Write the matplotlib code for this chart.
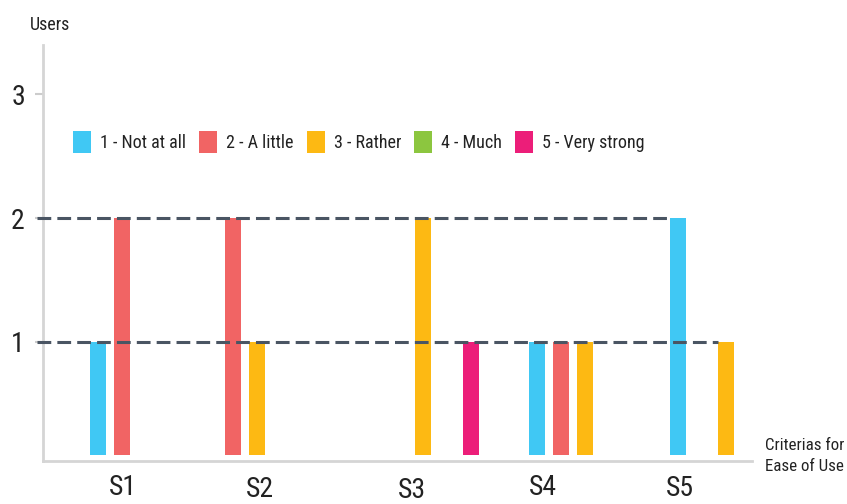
import numpy as np
import matplotlib
matplotlib.use('Agg')
import matplotlib.pyplot as plt
from matplotlib.patches import Patch
from matplotlib import font_manager

# data
categories = ['S1', 'S2', 'S3', 'S4', 'S5']
levels = ['1 - Not at all', '2 - A little', '3 - Rather', '4 - Much', '5 - Very strong']
not_at_all = [1, 0, 0, 1, 2]
a_little = [2, 2, 0, 1, 0]
rather = [0, 1, 2, 1, 1]
much = [0, 0, 0, 0, 0]
very_strong = [0, 0, 1, 0, 0]
series = [not_at_all, a_little, rather, much, very_strong]
colors = ['#40C8F4', '#F16464', '#FDB913', '#8CC63F', '#EC1E79']

# layout (axis units: one bar slot = 1)
group_x = [4.29, 8.92, 15.83, 22.58, 28.46]
label_x = [3.33, 9.04, 15.38, 20.83, 26.54]
label_y = [-0.07, -0.085, -0.09, -0.07, -0.08]
base = 0.085

names = {f.name for f in font_manager.fontManager.ttflist}
cands = ['Roboto Condensed', 'Open Sans Condensed', 'Liberation Sans Narrow',
         'Noto Sans Condensed', 'DejaVu Sans Condensed']
narrow = [c for c in cands if c in names]
font = narrow[0] if narrow else 'Lato'
plt.rcParams['font.family'] = [font, 'DejaVu Sans']
sc = 1.0 if narrow else 0.88  # Lato is wider than the original condensed face

fig = plt.figure(figsize=(8.47, 5.04), dpi=100)
ax = fig.add_axes([43 / 847, 38.5 / 504, 709 / 847, 420.5 / 504])
ax.set_xlim(0, 709 / 24)
ax.set_ylim(0, 3.4)

slot_offsets = np.arange(5) - 2
for vals, off, col in zip(series, slot_offsets, colors):
    v = np.array(vals, dtype=float)
    h = np.where(v > 0, v - base, 0)
    ax.bar(np.array(group_x) + off, h, bottom=base, width=0.7, color=col, zorder=2)

# dashed reference lines, ending at the last bar of that height
for lvl in [1, 2]:
    ends = [gx + off - 0.35 for vals, off in zip(series, slot_offsets)
            for gx, v in zip(group_x, vals) if v == lvl]
    ax.plot([-0.25, max(ends)], [lvl, lvl], ls=(0, (4.5, 2)), lw=2.2,
            color='#4A5563', zorder=3, clip_on=False)

for s in ['top', 'right']:
    ax.spines[s].set_visible(False)
ax.spines['left'].set_color('#D5D5D5')
ax.spines['left'].set_linewidth(2)
ax.spines['left'].set_bounds(0.04, 3.4)
ax.spines['bottom'].set_color('#D5D5D5')
ax.spines['bottom'].set_linewidth(2)
ax.spines['bottom'].set_position(('data', 0.04))

ax.set_yticks([1, 2, 3])
ax.tick_params(axis='y', length=6, width=1.5, color='#CCCCCC', labelsize=19 * sc + 1,
               labelcolor='#222222', pad=7)
ax.set_xticks([])

for cx, cy, c in zip(label_x, label_y, categories):
    ax.text(cx, cy, c, ha='center', va='top', fontsize=20 * sc, color='#222222', clip_on=False)

fig.text(30 / 847, 1 - 16 / 504, 'Users', ha='left', va='top', fontsize=13 * sc, color='#222222')
fig.text(765 / 847, 1 - 438 / 504, 'Criterias for\nEase of Use', ha='left', va='top',
         fontsize=12.2 * sc, color='#222222', linespacing=1.5)

handles = [Patch(facecolor=c, edgecolor='none') for c in colors]
fig.legend(handles, levels, loc='center left', bbox_to_anchor=(57 / 847, 1 - 142 / 504),
           ncol=5, frameon=False, fontsize=13 * sc, handlelength=1.0, handleheight=1.5,
           handletextpad=0.5, columnspacing=0.72, labelcolor='#222222')

fig.savefig('out.png', dpi=100)
